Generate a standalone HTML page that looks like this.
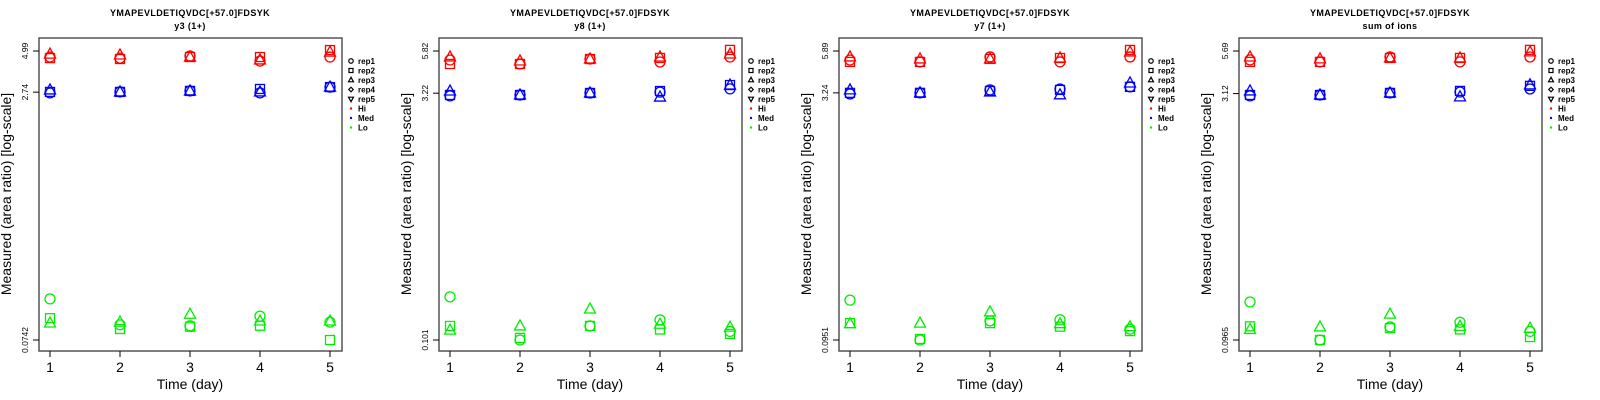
<!DOCTYPE html>
<html><head><meta charset="utf-8"><style>
html,body{margin:0;padding:0;background:#fff;}
svg{display:block;font-family:"Liberation Sans",sans-serif;}
</style></head><body>
<svg id="chart" width="1600" height="400" viewBox="0 0 1600 400"></svg>
<script>
const days = [1, 2, 3, 4, 5];
const panelTitles = ["y3 (1+)", "y8 (1+)", "y7 (1+)", "sum of ions"];
const mainTitle = "YMAPEVLDETIQVDC[+57.0]FDSYK";
const yTicks = [[0.0742, 2.74, 4.99], [0.101, 3.22, 5.82], [0.0951, 3.24, 5.89], [0.0965, 3.12, 5.69]];
const yTickLabels = [["0.0742", "2.74", "4.99"], ["0.101", "3.22", "5.82"], ["0.0951", "3.24", "5.89"], ["0.0965", "3.12", "5.69"]];
const groups = ["Hi", "Med", "Lo"];
const groupColors = ["#ff0000", "#0000ff", "#00ee00"];
const legendLabels = ["rep1", "rep2", "rep3", "rep4", "rep5", "Hi", "Med", "Lo"];
// values per panel, group: [rep1 (circle), rep2 (square), rep3 (triangle)] over days
const hiP1 = [[4.57, 4.50, 4.64, 4.31, 4.57], [4.50, 4.44, 4.57, 4.57, 5.06], [4.77, 4.71, 4.57, 4.38, 4.91]];
const medP1 = [[2.71, 2.75, 2.79, 2.71, 2.95], [2.75, 2.75, 2.79, 2.87, 2.95], [2.83, 2.75, 2.79, 2.75, 2.95]];
const loP1 = [[0.135, 0.0926, 0.0913, 0.105, 0.0963], [0.102, 0.0871, 0.090, 0.0913, 0.0742], [0.095, 0.0963, 0.108, 0.0978, 0.0978]];
const hiP2 = [[5.13, 4.85, 5.20, 4.99, 5.35], [4.85, 4.85, 5.20, 5.28, 5.91], [5.35, 5.06, 5.20, 5.35, 5.58]];
const medP2 = [[3.10, 3.14, 3.23, 3.27, 3.42], [3.14, 3.14, 3.23, 3.32, 3.61], [3.32, 3.14, 3.23, 3.05, 3.61]];
const loP2 = [[0.185, 0.101, 0.123, 0.134, 0.114], [0.123, 0.104, 0.123, 0.117, 0.110], [0.116, 0.123, 0.156, 0.126, 0.121]];
const hiP3 = [[5.18, 5.04, 5.41, 5.04, 5.41], [5.04, 5.04, 5.26, 5.33, 5.98], [5.41, 5.26, 5.26, 5.33, 5.81]];
const medP3 = [[3.19, 3.24, 3.38, 3.42, 3.53], [3.24, 3.24, 3.33, 3.38, 3.53], [3.38, 3.24, 3.28, 3.15, 3.73]];
const loP3 = [[0.168, 0.0951, 0.125, 0.127, 0.111], [0.121, 0.0965, 0.121, 0.115, 0.108], [0.120, 0.121, 0.142, 0.120, 0.115]];
const hiP4 = [[5.02, 4.88, 5.23, 4.88, 5.23], [4.88, 4.88, 5.16, 5.16, 5.78], [5.23, 5.09, 5.16, 5.16, 5.62]];
const medP4 = [[3.02, 3.06, 3.15, 3.19, 3.33], [3.06, 3.06, 3.15, 3.24, 3.48], [3.24, 3.06, 3.15, 2.98, 3.53]];
const loP4 = [[0.165, 0.0965, 0.116, 0.124, 0.109], [0.117, 0.0965, 0.114, 0.112, 0.1006], [0.112, 0.116, 0.139, 0.117, 0.114]];
const panelData = [[hiP1, medP1, loP1], [hiP2, medP2, loP2], [hiP3, medP3, loP3], [hiP4, medP4, loP4]];

const NS = "http://www.w3.org/2000/svg";
const svg = document.getElementById("chart");
function mk(tag, attrs, parent) {
  const e = document.createElementNS(NS, tag);
  for (const k in attrs) e.setAttribute(k, attrs[k]);
  (parent || svg).appendChild(e);
  return e;
}
function drawSymbol(g, shape, cx, cy, color, s, w) {
  let e;
  const sw = w || 1.3;
  if (shape === 0) e = mk("circle", {cx: cx, cy: cy, r: 5 * s, fill: "none", stroke: color, "stroke-width": sw}, g);
  else if (shape === 1) e = mk("rect", {x: cx - 4.5 * s, y: cy - 4.5 * s, width: 9 * s, height: 9 * s, fill: "none", stroke: color, "stroke-width": sw}, g);
  else if (shape === 2) e = mk("polygon", {points: `${cx},${cy - 6 * s} ${cx - 5.5 * s},${cy + 4 * s} ${cx + 5.5 * s},${cy + 4 * s}`, fill: "none", stroke: color, "stroke-width": sw}, g);
  else if (shape === 3) e = mk("polygon", {points: `${cx},${cy - 5 * s} ${cx + 5 * s},${cy} ${cx},${cy + 5 * s} ${cx - 5 * s},${cy}`, fill: "none", stroke: color, "stroke-width": sw}, g);
  else e = mk("polygon", {points: `${cx},${cy + 6 * s} ${cx - 5.5 * s},${cy - 4 * s} ${cx + 5.5 * s},${cy - 4 * s}`, fill: "none", stroke: color, "stroke-width": sw}, g);
  return e;
}

panelData.forEach((pd, p) => {
  const ox = p * 400;
  const g = mk("g", {transform: `translate(${ox},0)`});
  
  
  const ticks = yTicks[p];
  const lb = Math.log(ticks[0]), lt = Math.log(ticks[2]);
  const yPix = v => 340 - (Math.log(v) - lb) / (lt - lb) * 289;
  const xPix = d => 50 + (d - 1) * 70;

  const t1 = mk("text", {x: 190, y: 16, "text-anchor": "middle", "font-size": 9, "font-weight": "bold", "letter-spacing": "0.4"}, g);
  t1.textContent = mainTitle;
  
  
  const t2 = mk("text", {x: 190, y: 29, "text-anchor": "middle", "font-size": 9, "font-weight": "bold", "letter-spacing": "0.4"}, g);
  t2.textContent = panelTitles[p];
  
  

  const box = mk("rect", {x: 39, y: 38, width: 303, height: 313, fill: "none", stroke: "#555", "stroke-width": 1.5}, g);
  
  

  days.forEach(d => {
    const x = xPix(d);
    mk("line", {x1: x, y1: 351, x2: x, y2: 357, stroke: "#000", "stroke-width": 1}, g);
    const tl = mk("text", {x: x, y: 372, "text-anchor": "middle", "font-size": 14}, g);
    tl.textContent = d;
    
    
  });
  const xt = mk("text", {x: 190, y: 389, "text-anchor": "middle", "font-size": 14}, g);
  xt.textContent = "Time (day)";
  
  

  ticks.forEach((v, i) => {
    const y = yPix(v);
    mk("line", {x1: 33, y1: y, x2: 39, y2: y, stroke: "#000", "stroke-width": 1}, g);
    const yl = mk("text", {x: 0, y: 0, "text-anchor": "middle", "font-size": 8.5, transform: `translate(28,${y}) rotate(-90)`}, g);
    yl.textContent = yTickLabels[p][i];
    
    
  });
  const yt = mk("text", {x: 0, y: 0, "text-anchor": "middle", "font-size": 14, transform: "translate(11,194) rotate(-90)"}, g);
  yt.textContent = "Measured (area ratio) [log-scale]";
  
  

  pd.forEach((grp, gi) => {
    grp.forEach((series, si) => {
      series.forEach((v, di) => {
        const m = drawSymbol(g, si, xPix(days[di]), yPix(v), groupColors[gi], 1);
        
        
      });
    });
  });

  const lg = mk("g", {}, g);
  
  
  legendLabels.forEach((lab, i) => {
    const y = 61 + i * 9.5;
    if (i < 5) drawSymbol(lg, i, 351, y, "#000", 0.45, 1.2);
    else mk("circle", {cx: 351, cy: y, r: 1.2, fill: groupColors[i - 5]}, lg);
    const lt2 = mk("text", {x: 358, y: y + 3, "font-size": 8, "font-weight": "bold"}, lg);
    lt2.textContent = lab;
    
    
  });
});
</script>
</body></html>
